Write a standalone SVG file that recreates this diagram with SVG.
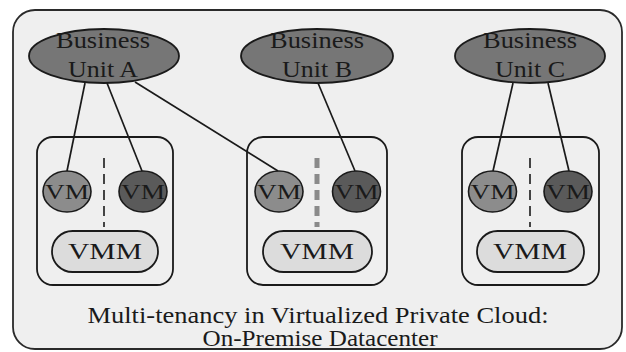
<svg xmlns="http://www.w3.org/2000/svg" width="626" height="352" viewBox="0 0 626 352">
<style>
text{font-family:"Liberation Serif","Times New Roman",serif;fill:#1a1a1a;text-anchor:middle}
.bu{fill:#767676;stroke:#1a1a1a;stroke-width:1.8}
.box{fill:none;stroke:#1a1a1a;stroke-width:1.8}
.vm1{fill:#8c8c8c;stroke:#1a1a1a;stroke-width:1.6}
.vm2{fill:#5a5a5a;stroke:#1a1a1a;stroke-width:1.6}
.vmm{fill:#dcdcdc;stroke:#1a1a1a;stroke-width:1.8}
.lbl{font-size:23px}
.vmt{font-size:20px}
.vmmt{font-size:23px}
.cap{font-size:23px}
.div{stroke:#1a1a1a;stroke-width:1.6;stroke-dasharray:10 6}
.con line{stroke:#1a1a1a;stroke-width:1.7}
</style>
<rect width="626" height="352" fill="#ffffff"/>
<g id="cloud">
<rect x="13" y="10" width="609" height="339" rx="22" fill="#efefef" stroke="#2a2a2a" stroke-width="1.8"/>
<text class="cap" x="318" y="323" textLength="461" lengthAdjust="spacingAndGlyphs">Multi-tenancy in Virtualized Private Cloud:</text>
<text class="cap" x="320" y="346" textLength="235" lengthAdjust="spacingAndGlyphs">On-Premise Datacenter</text>
</g>
<g id="host1">
<rect class="box" x="37" y="137" width="136" height="148" rx="16"/>
<line class="div" x1="104" y1="158" x2="104" y2="227"/>
<rect class="vmm" x="52" y="231" width="106" height="41" rx="20.5"/>
<text class="vmmt" x="105" y="259" textLength="74" lengthAdjust="spacingAndGlyphs">VMM</text>
</g>
<g id="host2">
<rect class="box" x="247" y="137" width="140" height="148" rx="16"/>
<line x1="317" y1="158" x2="317" y2="227" stroke="#8a8a8a" stroke-width="5" stroke-dasharray="10 6"/>
<rect class="vmm" x="263" y="231" width="109" height="41" rx="20.5"/>
<text class="vmmt" x="317" y="259" textLength="74" lengthAdjust="spacingAndGlyphs">VMM</text>
</g>
<g id="host3">
<rect class="box" x="462" y="137" width="137" height="148" rx="16"/>
<line class="div" x1="530" y1="158" x2="530" y2="227"/>
<rect class="vmm" x="477" y="231" width="107" height="41" rx="20.5"/>
<text class="vmmt" x="530" y="259" textLength="74" lengthAdjust="spacingAndGlyphs">VMM</text>
</g>
<g class="con" id="connectors">
<line x1="85" y1="83" x2="67" y2="171"/>
<line x1="107" y1="83" x2="142" y2="171"/>
<line x1="135" y1="82" x2="278" y2="171"/>
<line x1="318" y1="83" x2="355" y2="171"/>
<line x1="513" y1="83" x2="493" y2="171"/>
<line x1="548" y1="83" x2="569" y2="171"/>
</g>
<g id="buA">
<ellipse class="bu" cx="104" cy="56" rx="75" ry="27"/>
<text class="lbl" x="103" y="48" textLength="94" lengthAdjust="spacingAndGlyphs">Business</text>
<text class="lbl" x="103" y="77" textLength="70" lengthAdjust="spacingAndGlyphs">Unit A</text>
</g>
<g id="buB">
<ellipse class="bu" cx="317" cy="56" rx="76" ry="27"/>
<text class="lbl" x="317" y="48" textLength="94" lengthAdjust="spacingAndGlyphs">Business</text>
<text class="lbl" x="317" y="77" textLength="70" lengthAdjust="spacingAndGlyphs">Unit B</text>
</g>
<g id="buC">
<ellipse class="bu" cx="530" cy="56" rx="75" ry="27"/>
<text class="lbl" x="530" y="48" textLength="94" lengthAdjust="spacingAndGlyphs">Business</text>
<text class="lbl" x="530" y="77" textLength="70" lengthAdjust="spacingAndGlyphs">Unit C</text>
</g>
<g id="vm1a"><ellipse class="vm1" cx="67" cy="191.5" rx="24" ry="20.5"/><text class="vmt" x="67" y="198.5" textLength="44" lengthAdjust="spacingAndGlyphs">VM</text></g>
<g id="vm1b"><ellipse class="vm2" cx="143" cy="191.5" rx="24" ry="20.5"/><text class="vmt" x="143" y="198.5" textLength="44" lengthAdjust="spacingAndGlyphs">VM</text></g>
<g id="vm2a"><ellipse class="vm1" cx="279" cy="191.5" rx="24" ry="20.5"/><text class="vmt" x="279" y="198.5" textLength="44" lengthAdjust="spacingAndGlyphs">VM</text></g>
<g id="vm2b"><ellipse class="vm2" cx="356.5" cy="191.5" rx="24" ry="20.5"/><text class="vmt" x="356.5" y="198.5" textLength="44" lengthAdjust="spacingAndGlyphs">VM</text></g>
<g id="vm3a"><ellipse class="vm1" cx="492.5" cy="191.5" rx="24" ry="20.5"/><text class="vmt" x="492.5" y="198.5" textLength="44" lengthAdjust="spacingAndGlyphs">VM</text></g>
<g id="vm3b"><ellipse class="vm2" cx="568" cy="191.5" rx="24" ry="20.5"/><text class="vmt" x="568" y="198.5" textLength="44" lengthAdjust="spacingAndGlyphs">VM</text></g>
</svg>
